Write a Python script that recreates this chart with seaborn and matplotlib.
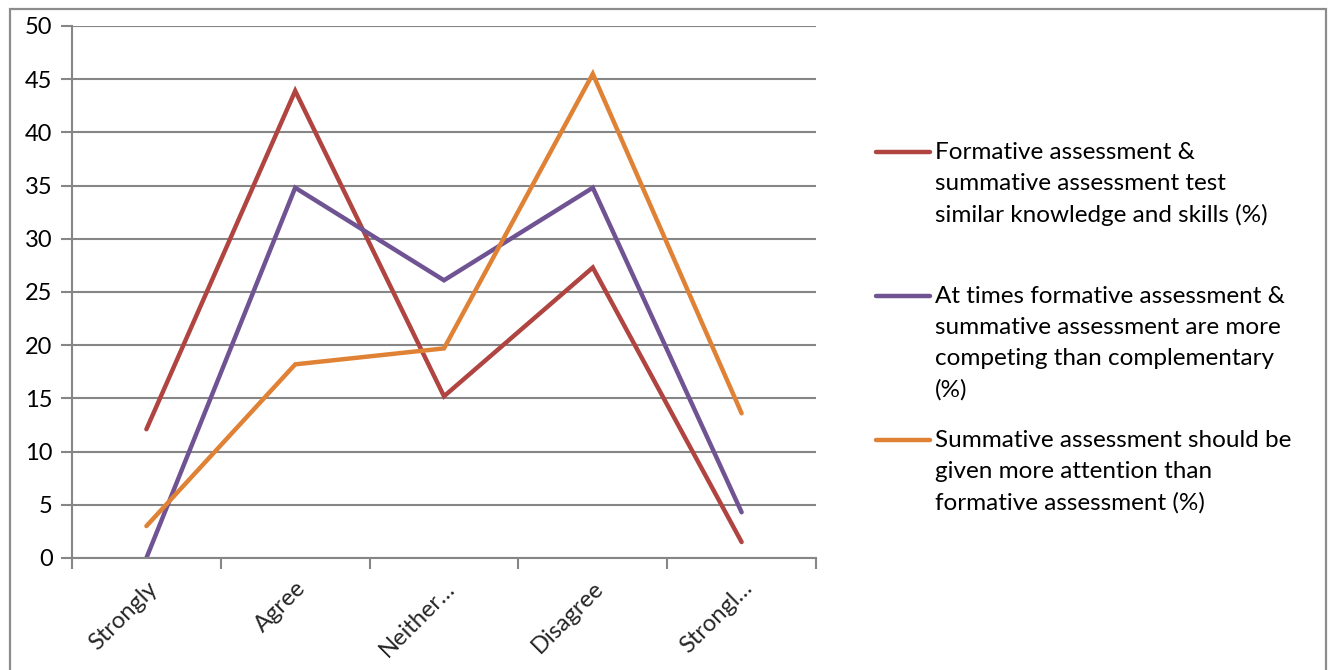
import matplotlib
matplotlib.use("Agg")
import matplotlib.pyplot as plt
from matplotlib.lines import Line2D
from matplotlib.patches import Rectangle
import seaborn as sns
import pandas as pd

# Response categories (labels are truncated as on the axis)
categories = ["Strongly", "Agree", "Neither…", "Disagree", "Strongl…"]

# Percent of respondents per statement
formative_similar = [12.1, 43.9, 15.2, 27.3, 1.5]
competing = [0.0, 34.8, 26.1, 34.8, 4.3]
summative_attention = [3.0, 18.2, 19.7, 45.5, 13.6]

series_labels = [
    "Formative assessment &\nsummative assessment test\nsimilar knowledge and skills (%)",
    "At times formative assessment &\nsummative assessment are more\ncompeting than complementary\n(%)",
    "Summative assessment should be\ngiven more attention than\nformative assessment (%)",
]
series_colors = ["#B04440", "#6F5393", "#E08235"]

yticks = [0, 5, 10, 15, 20, 25, 30, 35, 40, 45, 50]

sns.set_theme(style="white")
plt.rcParams["font.family"] = ["Lato", "DejaVu Sans"]

W, H = 1329, 670
fig = plt.figure(figsize=(W / 100, H / 100), dpi=100)

# Outer chart frame
fig.add_artist(Rectangle((10 / W, -0.01), (1326 - 10) / W, (H - 9) / H + 0.01,
                         transform=fig.transFigure, fill=False,
                         edgecolor="#8C8C8C", linewidth=1.6))

ax = fig.add_axes([72 / W, (H - 558) / H, (816 - 72) / W, (558 - 26) / H])

df = pd.DataFrame({
    "category": categories * 3,
    "pos": list(range(len(categories))) * 3,
    "value": formative_similar + competing + summative_attention,
    "series": [series_labels[0]] * 5 + [series_labels[1]] * 5 + [series_labels[2]] * 5,
})

sns.lineplot(data=df, x="pos", y="value", hue="series", hue_order=series_labels,
             palette=series_colors, linewidth=3.2, ax=ax, legend=False,
             sort=False, solid_capstyle="round", solid_joinstyle="miter")

ax.set_xlim(-0.5, len(categories) - 0.5)
ax.set_ylim(0, 50)
ax.set_xlabel("")
ax.set_ylabel("")

# Horizontal gridlines
ax.set_yticks(yticks)
ax.yaxis.grid(True, color="#868686", linewidth=1.5)
ax.xaxis.grid(False)
ax.set_axisbelow(True)

for side in ["top", "right"]:
    ax.spines[side].set_visible(False)
for side in ["left", "bottom"]:
    ax.spines[side].set_visible(True)
    ax.spines[side].set_color("#868686")
    ax.spines[side].set_linewidth(1.5)

ax.tick_params(axis="y", which="major", left=True, length=8, width=1.5,
               color="#868686", labelsize=17, labelcolor="black", pad=6)

# Tick marks between categories, labels at category centres
ax.set_xticks([i - 0.5 for i in range(len(categories) + 1)])
ax.set_xticklabels([])
ax.set_xticks(list(range(len(categories))), minor=True)
ax.set_xticklabels(categories, minor=True, rotation=45, ha="right",
                   rotation_mode="anchor", fontsize=17)
ax.tick_params(axis="x", which="major", bottom=True, length=8, width=1.5,
               color="#868686")
ax.tick_params(axis="x", which="minor", bottom=False, length=0, pad=14)

# Legend to the right, handle aligned with the first text line
legend_rows = [152, 296, 440]
for label, color, ypix in zip(series_labels, series_colors, legend_rows):
    yf = 1 - ypix / H
    fig.add_artist(Line2D([876 / W, 930 / W], [yf, yf], transform=fig.transFigure,
                          color=color, linewidth=3.2, solid_capstyle="round"))
    fig.text(935 / W, 1 - (ypix - 10) / H, label, ha="left", va="top",
             fontsize=17.5, color="black", linespacing=1.58)

fig.savefig("out.png", dpi=100)
